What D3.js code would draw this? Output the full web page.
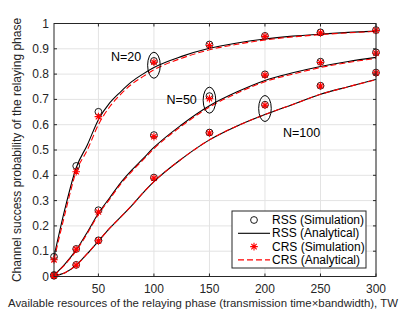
<!DOCTYPE html>
<html>
<head>
    <title>Channel success probability</title>
    <script src="https://d3js.org/d3.v7.min.js"></script>
    <style>
        body {
            margin: 0;
            background-color: #fff;
            font-family: "Liberation Sans", Arial, sans-serif;
        }
        svg text {
            fill: #262626;
        }
    </style>
</head>
<body>
    <div id="chart"></div>
    <script>
        // simulation points
        const simX = [10, 30, 50, 100, 150, 200, 250, 300];
        const rssSim20 = [0.078, 0.437, 0.651, 0.852, 0.917, 0.951, 0.965, 0.974];
        const crsSim20 = [0.066, 0.414, 0.632, 0.847, 0.913, 0.949, 0.963, 0.973];
        const rssSim50 = [0.006, 0.109, 0.262, 0.559, 0.713, 0.799, 0.849, 0.886];
        const crsSim50 = [0.005, 0.108, 0.255, 0.553, 0.703, 0.796, 0.846, 0.883];
        const rssSim100 = [0.003, 0.046, 0.143, 0.391, 0.569, 0.679, 0.754, 0.806];
        const crsSim100 = [0.003, 0.045, 0.141, 0.389, 0.567, 0.677, 0.753, 0.805];

        // analytical curves
        const anaX = [10, 20, 30, 40, 50, 60, 70, 80, 90, 100, 125, 150, 175, 200, 225, 250, 275, 300];
        const rssAna20 = [0.078, 0.27, 0.43, 0.52, 0.62, 0.685, 0.73, 0.77, 0.80, 0.826, 0.87, 0.902, 0.923, 0.939, 0.95, 0.958, 0.965, 0.970];
        const crsAna20 = [0.065, 0.25, 0.415, 0.50, 0.60, 0.67, 0.72, 0.76, 0.79, 0.817, 0.863, 0.896, 0.918, 0.935, 0.947, 0.956, 0.963, 0.969];
        const rssAna50 = [0.005, 0.05, 0.105, 0.175, 0.25, 0.31, 0.37, 0.42, 0.465, 0.51, 0.60, 0.675, 0.73, 0.775, 0.805, 0.83, 0.85, 0.866];
        const crsAna50 = [0.005, 0.048, 0.102, 0.17, 0.245, 0.305, 0.365, 0.415, 0.46, 0.505, 0.595, 0.67, 0.725, 0.77, 0.80, 0.826, 0.846, 0.862];
        const rssAna100 = [0.003, 0.015, 0.045, 0.09, 0.14, 0.19, 0.235, 0.28, 0.33, 0.375, 0.465, 0.54, 0.595, 0.64, 0.68, 0.72, 0.75, 0.779];
        const crsAna100 = [0.003, 0.015, 0.045, 0.09, 0.14, 0.19, 0.235, 0.28, 0.33, 0.375, 0.465, 0.54, 0.595, 0.64, 0.68, 0.72, 0.75, 0.778];

        const xTicks = [50, 100, 150, 200, 250, 300];
        const yTicks = [0, 0.1, 0.2, 0.3, 0.4, 0.5, 0.6, 0.7, 0.8, 0.9, 1];

        const legendLabels = ['RSS (Simulation)', 'RSS (Analytical)', 'CRS (Simulation)', 'CRS (Analytical)'];

        // ellipse annotations: where the ellipse sits and where its label goes
        const notes = [
            { label: 'N=20', x: 100, y: 0.835, tx: 75, ty: 0.868 },
            { label: 'N=50', x: 150, y: 0.697, tx: 125, ty: 0.698 },
            { label: 'N=100', x: 200, y: 0.664, tx: 233, ty: 0.567 }
        ];

        const width = 415;
        const height = 312;
        const margin = { top: 23.5, right: 39, bottom: 35.5, left: 54 };

        const svg = d3.select('#chart')
            .append('svg')
            .attr('width', width)
            .attr('height', height);

        const x = d3.scaleLinear().domain([10, 300]).range([margin.left, width - margin.right]);
        const y = d3.scaleLinear().domain([0, 1]).range([height - margin.bottom, margin.top]);

        // grid
        const grid = svg.append('g');
        grid.selectAll('.gx').data(xTicks).join('line')
            .attr('x1', d => x(d)).attr('x2', d => x(d))
            .attr('y1', y(0)).attr('y2', y(1))
            .attr('stroke', '#e3e3e3').attr('stroke-width', 1);
        grid.selectAll('.gy').data(yTicks).join('line')
            .attr('x1', x(10)).attr('x2', x(300))
            .attr('y1', d => y(d)).attr('y2', d => y(d))
            .attr('stroke', '#e3e3e3').attr('stroke-width', 1);

        const line = d3.line()
            .x((d, i) => x(anaX[i]))
            .y(d => y(d))
            .curve(d3.curveMonotoneX);

        // black analytical RSS
        [rssAna20, rssAna50, rssAna100].forEach(s => {
            svg.append('path')
                .attr('d', line(s))
                .attr('fill', 'none')
                .attr('stroke', '#000')
                .attr('stroke-width', 1.1);
        });
        // red dashed analytical CRS
        [crsAna20, crsAna50, crsAna100].forEach(s => {
            svg.append('path')
                .attr('d', line(s))
                .attr('fill', 'none')
                .attr('stroke', '#ff0000')
                .attr('stroke-width', 1.1)
                .attr('stroke-dasharray', '6,3');
        });

        const starPath = (r) => {
            let p = '';
            for (let k = 0; k < 4; k++) {
                const a = k * Math.PI / 4;
                const dx = r * Math.cos(a), dy = r * Math.sin(a);
                p += `M${-dx},${-dy}L${dx},${dy}`;
            }
            return p;
        };

        // circles (RSS simulation)
        [rssSim20, rssSim50, rssSim100].forEach(s => {
            svg.append('g').selectAll('circle').data(s).join('circle')
                .attr('cx', (d, i) => x(simX[i]))
                .attr('cy', d => y(d))
                .attr('r', 3.4)
                .attr('fill', 'none')
                .attr('stroke', '#000')
                .attr('stroke-width', 0.9);
        });
        // stars (CRS simulation)
        [crsSim20, crsSim50, crsSim100].forEach(s => {
            svg.append('g').selectAll('path').data(s).join('path')
                .attr('transform', (d, i) => `translate(${x(simX[i])},${y(d)})`)
                .attr('d', starPath(3.8))
                .attr('stroke', '#ff0000')
                .attr('stroke-width', 1.1);
        });

        // annotations
        notes.forEach(n => {
            svg.append('ellipse')
                .attr('cx', x(n.x)).attr('cy', y(n.y))
                .attr('rx', 6.3).attr('ry', 13)
                .attr('fill', 'none')
                .attr('stroke', '#000')
                .attr('stroke-width', 1);
            svg.append('text')
                .attr('x', x(n.tx)).attr('y', y(n.ty))
                .attr('text-anchor', 'middle')
                .attr('dominant-baseline', 'central')
                .attr('font-size', 12.5)
                .style('fill', '#000')
                .text(n.label);
        });

        // axes box and ticks (matlab style, ticks inside on all sides)
        const ax = svg.append('g');
        ax.append('rect')
            .attr('x', x(10)).attr('y', y(1))
            .attr('width', x(300) - x(10)).attr('height', y(0) - y(1))
            .attr('fill', 'none').attr('stroke', '#262626').attr('stroke-width', 1);
        const tl = 3;
        ax.selectAll('.tb').data(xTicks).join('line')
            .attr('x1', d => x(d)).attr('x2', d => x(d))
            .attr('y1', y(0)).attr('y2', y(0) - tl)
            .attr('stroke', '#262626');
        ax.selectAll('.tt').data(xTicks).join('line')
            .attr('class', 'tt')
            .attr('x1', d => x(d)).attr('x2', d => x(d))
            .attr('y1', y(1)).attr('y2', y(1) + tl)
            .attr('stroke', '#262626');
        ax.selectAll('.tyl').data(yTicks).join('line')
            .attr('class', 'tyl')
            .attr('x1', x(10)).attr('x2', x(10) + tl)
            .attr('y1', d => y(d)).attr('y2', d => y(d))
            .attr('stroke', '#262626');
        ax.selectAll('.tyr').data(yTicks).join('line')
            .attr('class', 'tyr')
            .attr('x1', x(300)).attr('x2', x(300) - tl)
            .attr('y1', d => y(d)).attr('y2', d => y(d))
            .attr('stroke', '#262626');

        ax.selectAll('.xl').data(xTicks).join('text')
            .attr('class', 'xl')
            .attr('x', d => x(d)).attr('y', y(0) + 16)
            .attr('text-anchor', 'middle')
            .attr('font-size', 12)
            .text(d => d);
        ax.selectAll('.yl').data(yTicks).join('text')
            .attr('class', 'yl')
            .attr('x', x(10) - 5).attr('y', d => y(d))
            .attr('text-anchor', 'end')
            .attr('dominant-baseline', 'central')
            .attr('font-size', 12)
            .text(d => d3.format('~g')(d));

        // x label, a bit smaller so the trailing "TW" stays inside the frame
        svg.append('text')
            .attr('x', 8).attr('y', 307)
            .attr('font-size', 11.4)
            .text('Available resources of the relaying phase (transmission time\u00d7bandwidth), TW');

        svg.append('text')
            .attr('transform', `translate(21,${(y(0) + y(1)) / 2}) rotate(-90)`)
            .attr('text-anchor', 'middle')
            .attr('font-size', 12)
            .text('Channel success probability of the relaying phase');

        // legend
        const lg = svg.append('g').attr('transform', 'translate(232,211)');
        lg.append('rect')
            .attr('width', 134).attr('height', 57)
            .attr('fill', '#fff').attr('stroke', '#262626').attr('stroke-width', 1);
        legendLabels.forEach((t, i) => {
            const cy = 9 + i * 13.3;
            if (i === 0) {
                lg.append('circle').attr('cx', 22).attr('cy', cy).attr('r', 3.4)
                    .attr('fill', 'none').attr('stroke', '#000').attr('stroke-width', 0.9);
            } else if (i === 1) {
                lg.append('line').attr('x1', 6).attr('x2', 38).attr('y1', cy).attr('y2', cy)
                    .attr('stroke', '#000').attr('stroke-width', 1.1);
            } else if (i === 2) {
                lg.append('path').attr('transform', `translate(22,${cy})`)
                    .attr('d', starPath(3.8)).attr('stroke', '#ff0000').attr('stroke-width', 1.1);
            } else {
                lg.append('line').attr('x1', 6).attr('x2', 38).attr('y1', cy).attr('y2', cy)
                    .attr('stroke', '#ff0000').attr('stroke-width', 1.1).attr('stroke-dasharray', '6,3');
            }
            lg.append('text')
                .attr('x', 40).attr('y', cy)
                .attr('dominant-baseline', 'central')
                .attr('font-size', 12)
                .style('fill', '#000')
                .text(t);
        });
    </script>
</body>
</html>
